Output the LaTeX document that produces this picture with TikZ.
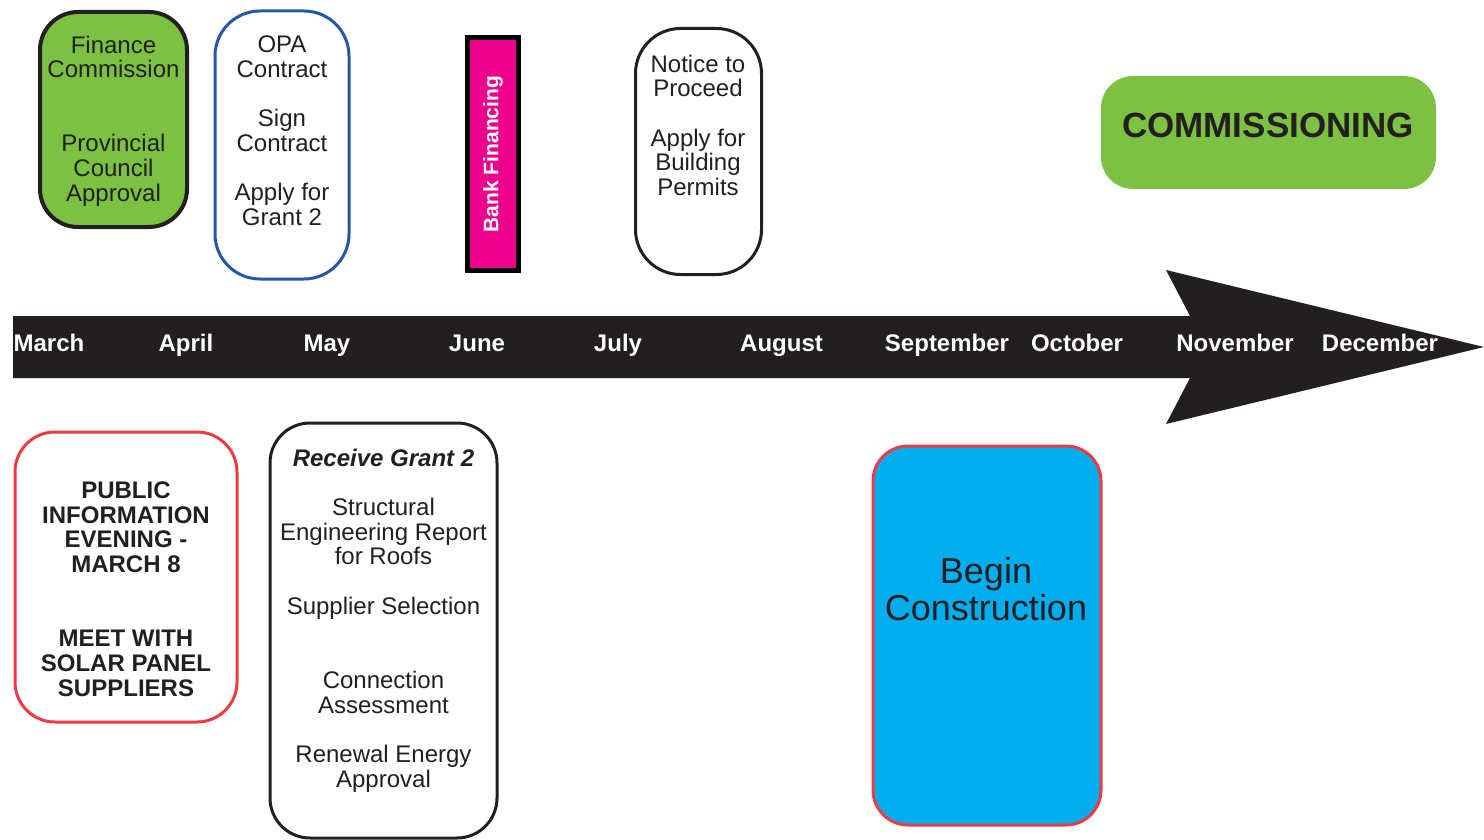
\documentclass[tikz,border=0pt]{standalone}
\usepackage{fontspec}
\setmainfont{Liberation Sans}
\definecolor{ink}{HTML}{231F20}
\definecolor{leaf}{HTML}{7CC142}
\definecolor{navy}{HTML}{2457A7}
\definecolor{rose}{HTML}{EE3B43}
\definecolor{magen}{HTML}{EC008C}
\definecolor{cyanfill}{HTML}{00AEEF}
\newcommand\bodyfont{\fontsize{24}{24.7}\selectfont}
\newcommand\monthfont{\fontsize{24}{24}\selectfont\bfseries}
\begin{document}
\begin{tikzpicture}[x=1pt,y=-1pt,
  tlbox/.style={rectangle, inner sep=0pt, line width=3pt},
  lbl/.style={anchor=north, align=center, inner sep=0pt, text=ink, font=\bodyfont},
  month/.style={anchor=base, inner sep=0pt, text=white, font=\monthfont}]
\useasboundingbox (0,0) rectangle (1484,840);

% timeline arrow
\fill[ink] (13,316) -- (1190,316) -- (1166,270) -- (1484,347) -- (1166,424) -- (1190,378) -- (13,378) -- cycle;
\node[month] (mar) at (49,351) {March};
\node[month] (apr) at (186,351) {April};
\node[month] (may) at (327,351) {May};
\node[month] (jun) at (477,351) {June};
\node[month] (jul) at (618,351) {July};
\node[month] (aug) at (781.5,351) {August};
\node[month] (sep) at (947,351) {September};
\node[month] (oct) at (1077,351) {October};
\node[month] (nov) at (1235,351) {November};
\node[month] (dec) at (1380,351) {December};

% top boxes
\node[tlbox, draw=ink, line width=4pt, fill=leaf, rounded corners=38pt,
      minimum width=147pt, minimum height=215pt] (fin) at (113.5,119.5) {};
\node[lbl] (fintxt) at (113.5,35.5) {Finance\\Commission\\[49.4pt]Provincial\\Council\\Approval};

\node[tlbox, draw=navy, fill=white, rounded corners=45pt,
      minimum width=134pt, minimum height=268pt] (opa) at (282,145) {};
\node[lbl] (opatxt) at (282,35.5) {OPA\\Contract\\[24.7pt]Sign\\Contract\\[24.7pt]Apply for\\Grant 2};

\node[tlbox, draw=black, line width=5pt, fill=magen,
      minimum width=51pt, minimum height=233pt] (bank) at (493,154) {};
\node[rotate=90, text=white, font=\fontsize{21}{21}\selectfont\bfseries, inner sep=0pt] (banktxt) at (493,154) {Bank Financing};

\node[tlbox, draw=ink, fill=white, rounded corners=45pt,
      minimum width=126pt, minimum height=246pt] (ntp) at (698.5,151.5) {};
\node[lbl] (ntptxt) at (698,54.5) {Notice to\\Proceed\\[24.7pt]Apply for\\Building\\Permits};

\node[tlbox, draw=none, fill=leaf, rounded corners=32pt,
      minimum width=335pt, minimum height=113pt] (com) at (1268.5,132.5) {};
\node[inner sep=0pt, text=ink, font=\fontsize{35}{35}\selectfont\bfseries] (comtxt) at (1268,125) {COMMISSIONING};

% bottom boxes
\node[tlbox, draw=rose, fill=white, rounded corners=40pt,
      minimum width=222pt, minimum height=290pt] (pub) at (126,577) {};
\node[lbl, font=\bodyfont\bfseries] (pubtxt) at (126,481.5) {PUBLIC\\INFORMATION\\EVENING -\\MARCH 8\\[49.4pt]MEET WITH\\SOLAR PANEL\\SUPPLIERS};

\node[tlbox, draw=ink, fill=white, rounded corners=40pt,
      minimum width=227pt, minimum height=415pt] (rec) at (383.5,630.5) {};
\node[lbl] (rectxt) at (383.5,448.5) {\textbf{\textit{Receive Grant 2}}\\[24.7pt]Structural\\Engineering Report\\for Roofs\\[24.7pt]Supplier Selection\\[49.4pt]Connection\\Assessment\\[24.7pt]Renewal Energy\\Approval};

\node[tlbox, draw=rose, fill=cyanfill, rounded corners=35pt,
      minimum width=228pt, minimum height=379pt] (beg) at (987,635.5) {};
\node[lbl, font=\fontsize{36}{37}\selectfont] (begtxt) at (986,557) {Begin\\Construction};
\end{tikzpicture}
\end{document}
